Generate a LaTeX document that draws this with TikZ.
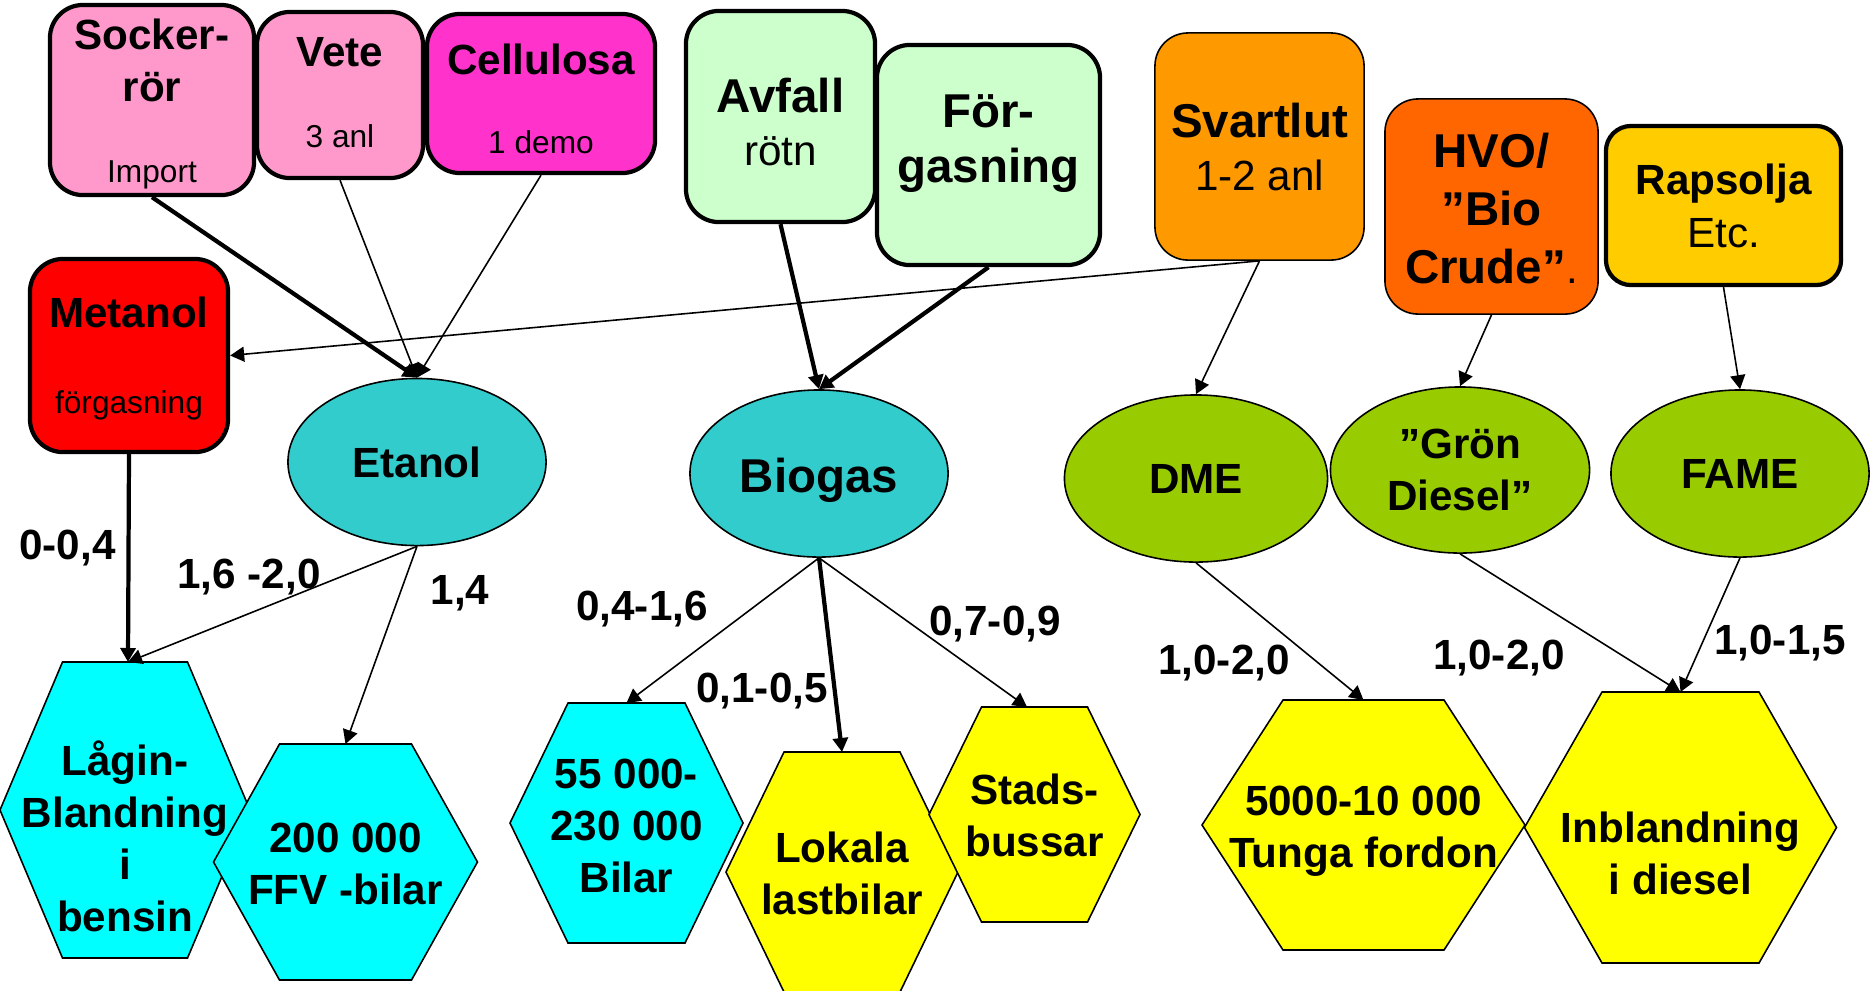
\documentclass[tikz,border=0pt]{standalone}
\usepackage{fontspec}
\setmainfont{Liberation Sans}
\usetikzlibrary{shapes.geometric,arrows.meta}

\definecolor{pinkbox}{HTML}{FF99CC}
\definecolor{magentabox}{HTML}{FF33CC}
\definecolor{redbox}{HTML}{FF0000}
\definecolor{mintbox}{HTML}{CCFFCC}
\definecolor{orangebox}{HTML}{FF9900}
\definecolor{darkorangebox}{HTML}{FF6600}
\definecolor{goldbox}{HTML}{FFCC00}
\definecolor{tealfuel}{HTML}{33CCCC}
\definecolor{limefuel}{HTML}{99CC00}
\definecolor{cyanuse}{HTML}{00FFFF}
\definecolor{yellowuse}{HTML}{FFFF00}

\newcommand{\smalltxt}[1]{{\mdseries\fontsize{9}{11}\selectfont #1}}
\newcommand{\regtxt}[1]{{\mdseries\fontsize{12}{14.8}\selectfont #1}}

\begin{document}
\begin{tikzpicture}[x=0.01cm, y=-0.01cm,
  >={Triangle[length=0.14cm, width=0.15cm]},
  src/.style={draw=black, rounded corners=0.33cm, line width=1.2pt, inner sep=0pt, align=center,
    font=\bfseries\fontsize{12}{14.8}\selectfont},
  srcthin/.style={src, line width=0.45pt},
  bigtxt/.style={font=\bfseries\fontsize{13.5}{14.8}\selectfont},
  fuel/.style={ellipse, draw=black, line width=0.45pt, inner sep=0pt, align=center,
    minimum width=2.58cm, minimum height=1.67cm, font=\bfseries\fontsize{12}{14.8}\selectfont},
  hexa/.style={draw=black, line width=0.45pt},
  target/.style={align=center, inner sep=0pt, font=\bfseries\fontsize{12}{14.8}\selectfont},
  share/.style={inner sep=0pt, font=\bfseries\fontsize{12}{14.8}\selectfont},
  arr/.style={->, line width=0.45pt},
  thickarr/.style={->, line width=1.2pt}]

\useasboundingbox (0,0) rectangle (1876,990);

% raw materials
\node[src, fill=pinkbox, minimum width=2.04cm, minimum height=1.90cm, text height=1.77cm, text depth=0.13cm] (socker) at (152,100) {Socker-\\rör\\[8pt]\smalltxt{Import}};
\node[src, fill=pinkbox, minimum width=1.66cm, minimum height=1.66cm, text height=1.35cm, text depth=0.31cm] (vete) at (340,95) {Vete\\[8pt]\smalltxt{3 anl}};
\node[src, fill=magentabox, minimum width=2.28cm, minimum height=1.59cm, text height=1.39cm, text depth=0.20cm] (cellulosa) at (541,93.5) {Cellulosa\\[7.4pt]\smalltxt{1 demo}};
\node[src, fill=redbox, minimum width=1.98cm, minimum height=1.93cm, text height=1.54cm, text depth=0.39cm] (metanol) at (129,355.5) {Metanol\\[9.4pt]\smalltxt{förgasning}};
\node[src, bigtxt, fill=mintbox, minimum width=1.89cm, minimum height=2.11cm, text height=1.54cm, text depth=0.57cm] (avfall) at (780.5,116.5) {Avfall\\\regtxt{rötn}};
\node[src, bigtxt, fill=mintbox, minimum width=2.23cm, minimum height=2.20cm, text height=1.37cm, text depth=0.83cm] (forgas) at (988.5,155) {För-\\[0.8pt]gasning};
\node[srcthin, bigtxt, fill=orangebox, minimum width=2.09cm, minimum height=2.27cm, text height=1.57cm, text depth=0.70cm] (svartlut) at (1259.5,146.5) {Svartlut\\\regtxt{1-2 anl}};
\node[srcthin, bigtxt, fill=darkorangebox, minimum width=2.13cm, minimum height=2.15cm, text height=1.84cm, text depth=0.31cm] (hvo) at (1491.5,206.5) {HVO/\\[1.7pt]”Bio\\[1.7pt]Crude”\regtxt{.}};
\node[src, fill=goldbox, rounded corners=0.25cm, minimum width=2.35cm, minimum height=1.59cm, text height=1.21cm, text depth=0.38cm] (rapsolja) at (1723.5,205.5) {Rapsolja\\\regtxt{Etc.}};

% fuels
\node[fuel, fill=tealfuel] (etanol) at (417,462) {Etanol};
\node[fuel, fill=tealfuel, font=\bfseries\fontsize{13.5}{14.8}\selectfont, text height=0.40cm, text depth=0.03cm] (biogas) at (819,473.5) {Biogas};
\node[fuel, fill=limefuel, minimum width=2.63cm] (dme) at (1196,478.5) {DME};
\node[fuel, fill=limefuel, minimum width=2.59cm, minimum height=1.66cm] (gron) at (1460,470) {”Grön\\Diesel”};
\node[fuel, fill=limefuel] (fame) at (1740,473.5) {FAME};

% vehicles
\filldraw[hexa, fill=cyanuse] (0,810) -- (62.5,662) -- (187.5,662) -- (250,810) -- (187.5,958) -- (62.5,958) -- cycle;
\coordinate (lagintop) at (128,662);
\node[target] (lagin) at (125,836) {Lågin-\\Blandning\\i\\bensin};

\filldraw[hexa, fill=cyanuse] (213.5,862) -- (279.5,744) -- (411.5,744) -- (477.5,862) -- (411.5,980) -- (279.5,980) -- cycle;
\coordinate (ffvtop) at (345.5,744);
\node[target] (ffv) at (345.5,864) {200 000\\FFV -bilar};

\filldraw[hexa, fill=cyanuse] (510,823) -- (568,703) -- (685,703) -- (743,823) -- (685,943) -- (568,943) -- cycle;
\coordinate (bilartop) at (626.5,703);
\node[target] (bilar) at (626.5,826) {55 000-\\230 000\\Bilar};

\filldraw[hexa, fill=yellowuse] (726,872) -- (784,752) -- (900,752) -- (958,872) -- (900,992) -- (784,992) -- cycle;
\coordinate (lokalatop) at (842,752);
\node[target] (lokala) at (842,873) {Lokala\\lastbilar};

\filldraw[hexa, fill=yellowuse] (929,814.5) -- (981.5,707) -- (1087.5,707) -- (1140,814.5) -- (1087.5,922) -- (981.5,922) -- cycle;
\coordinate (stadstop) at (1027,707);
\node[target] (stads) at (1034.5,815) {Stads-\\bussar};

\filldraw[hexa, fill=yellowuse] (1202,825) -- (1283,700) -- (1444,700) -- (1525,825) -- (1444,950) -- (1283,950) -- cycle;
\coordinate (tungatop) at (1363.5,700);
\node[target] (tunga) at (1363.5,831) {5000-10 000\\Tunga fordon};

\filldraw[hexa, fill=yellowuse] (1524.5,827.5) -- (1602,692) -- (1759,692) -- (1836.5,827.5) -- (1759,963) -- (1602,963) -- cycle;
\coordinate (inbltop) at (1680.5,692);
\node[target] (inbl) at (1680.5,853) {Inblandning\\i diesel};

% shares
\node[share] (s1) at (67.5,548) {0-0,4};
\node[share] (s2) at (249,577) {1,6 -2,0};
\node[share] (s3) at (460,593) {1,4};
\node[share] (s4) at (642,609) {0,4-1,6};
\node[share] (s5) at (762,691) {0,1-0,5};
\node[share] (s6) at (995,624) {0,7-0,9};
\node[share] (s7) at (1224,663) {1,0-2,0};
\node[share] (s8) at (1499,658) {1,0-2,0};
\node[share] (s9) at (1780,643) {1,0-1,5};

% flows
\draw[thickarr] (socker.south) -- (etanol.north);
\draw[arr] (vete.south) -- (etanol.north);
\draw[arr] (cellulosa.south) -- (etanol.north);
\draw[arr] (svartlut.south) -- (metanol.east);
\draw[arr] (svartlut.south) -- (dme.north);
\draw[thickarr] (avfall.south) -- (biogas.north);
\draw[thickarr] (forgas.south) -- (biogas.north);
\draw[arr] (hvo.south) -- (gron.north);
\draw[arr] (rapsolja.south) -- (fame.north);

\draw[thickarr] (metanol.south) -- (lagintop);
\draw[arr] (etanol.south) -- (lagintop);
\draw[arr] (etanol.south) -- (ffvtop);
\draw[arr] (biogas.south) -- (bilartop);
\draw[thickarr] (biogas.south) -- (lokalatop);
\draw[arr] (biogas.south) -- (stadstop);
\draw[arr] (dme.south) -- (tungatop);
\draw[arr] (gron.south) -- (inbltop);
\draw[arr] (fame.south) -- (inbltop);

\end{tikzpicture}
\end{document}
